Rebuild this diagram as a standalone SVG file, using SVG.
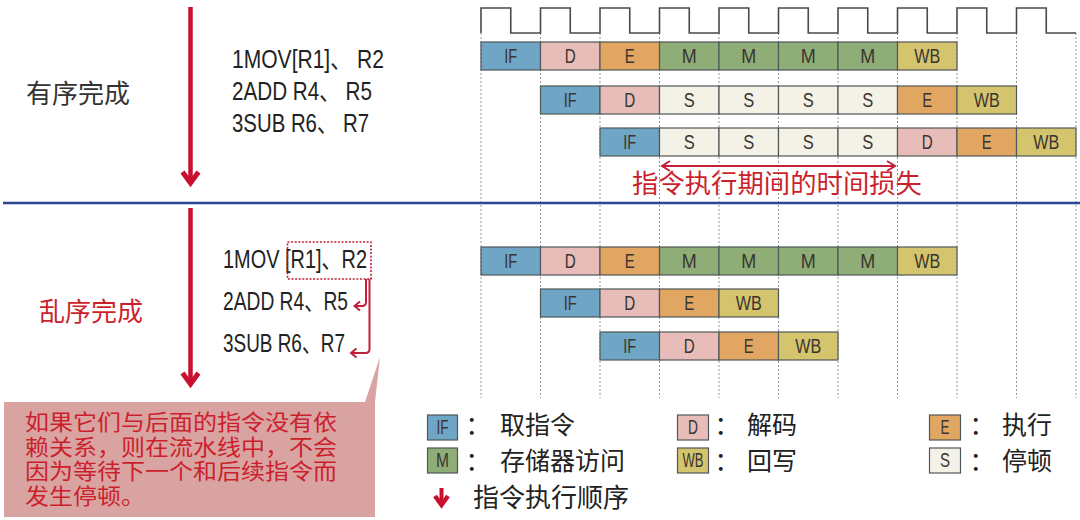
<svg xmlns="http://www.w3.org/2000/svg" width="1080" height="520" viewBox="0 0 1080 520">
<style>
.bg{fill:#ffffff}
.cell{stroke:#4f5858;stroke-width:1.2}
.if{fill:#6fa6c5}.d{fill:#e8bdb9}.e{fill:#e2a663}.m{fill:#8fad77}.wb{fill:#d5c46e}.s{fill:#f4f1e7}
.ct{font-family:"Liberation Sans",sans-serif;font-size:20px;fill:#3a3530;text-anchor:middle}
.ins{font-family:"Liberation Sans","Noto Sans CJK SC",sans-serif;font-size:25px;fill:#222}
.cjk{font-family:"Noto Sans CJK SC",sans-serif}
.red{fill:#cc1f2c}
.grid{stroke:#8a8a8a;stroke-width:0.9;stroke-dasharray:2 2;fill:none}
.clock{stroke:#4a4a4a;stroke-width:1.6;fill:none}
.rarrow{stroke:#c8102e;fill:none;stroke-linecap:butt}
.thin{stroke:#c41e3a;stroke-width:2;fill:none}
.co{font-family:"Liberation Sans","Noto Sans CJK SC",sans-serif;font-size:21.5px;fill:#cc1f2c}
</style>
<rect class="bg" x="0" y="0" width="1080" height="520"/>

<g id="grid">
<path class="grid" d="M481,33V398M540.5,33V398M600,33V398M659.5,33V398M719,33V398M778.5,33V398M838,33V398M897.5,33V398M957,33V398M1016.5,33V398M1076,33V398"/>
</g>

<g id="clock">
<path class="clock" d="M481,33V8H510.75V33H540.5V8H570.25V33H600V8H629.75V33H659.5V8H689.25V33H719V8H748.75V33H778.5V8H808.25V33H838V8H867.75V33H897.5V8H927.25V33H957V8H986.75V33H1016.5V8H1046.25V33H1076"/>
</g>

<g id="divider">
<line x1="3" y1="203" x2="1080" y2="203" stroke="#2d4694" stroke-width="2.6"/>
</g>

<g id="order-arrow-top">
<path class="rarrow" stroke-width="4.5" d="M190.5,7V183"/>
<path class="rarrow" stroke-width="5" d="M182.5,172L190.5,183L198.5,172"/>
</g>
<g id="order-arrow-bottom">
<path class="rarrow" stroke-width="4.5" d="M190.5,208V384"/>
<path class="rarrow" stroke-width="5" d="M182.5,373L190.5,384L198.5,373"/>
</g>

<g id="label-inorder">
<text class="cjk" x="26" y="103" font-size="26" fill="#333">有序完成</text>
</g>
<g id="label-outorder">
<text class="cjk red" x="39" y="321" font-size="26">乱序完成</text>
</g>

<g id="instr-top">
<text class="ins" x="232" y="68" textLength="152" lengthAdjust="spacingAndGlyphs">1MOV[R1]、 R2</text>
<text class="ins" x="232" y="100" textLength="140" lengthAdjust="spacingAndGlyphs">2ADD R4、 R5</text>
<text class="ins" x="232" y="132" textLength="137" lengthAdjust="spacingAndGlyphs">3SUB R6、 R7</text>
</g>

<g id="instr-bottom">
<text class="ins" x="223" y="268" font-size="26" textLength="144" lengthAdjust="spacingAndGlyphs">1MOV [R1]、R2</text>
<text class="ins" x="223" y="310" font-size="26" textLength="125" lengthAdjust="spacingAndGlyphs">2ADD R4、R5</text>
<text class="ins" x="223" y="352" font-size="26" textLength="122" lengthAdjust="spacingAndGlyphs">3SUB R6、R7</text>
<rect x="287.5" y="242" width="83.5" height="37" fill="none" stroke="#c41e3a" stroke-width="1.6" stroke-dasharray="2 1.6"/>
</g>

<g id="connectors">
<path class="thin" d="M366,279V302Q366,306 362,306H355"/>
<path class="thin" d="M360,301.5L354.5,306L360,310.5"/>
<path class="thin" d="M369.5,279V349Q369.5,353 365.5,353H351"/>
<path class="thin" d="M356.5,348.5L351,353L356.5,357.5"/>
<path class="thin" d="M662,166H895"/>
<path class="thin" d="M670,161L662,166L670,171"/>
<path class="thin" d="M887,161L895,166L887,171"/>
</g>

<g id="loss-label">
<text class="cjk red" x="632" y="193" font-size="26" textLength="290" lengthAdjust="spacingAndGlyphs">指令执行期间的时间损失</text>
</g>

<g id="pipe-top-1">
<rect class="cell if" x="481" y="42" width="59.5" height="28"/><text class="ct" x="510.75" y="63" textLength="13" lengthAdjust="spacingAndGlyphs">IF</text>
<rect class="cell d" x="540.5" y="42" width="59.5" height="28"/><text class="ct" x="570.25" y="63" textLength="11" lengthAdjust="spacingAndGlyphs">D</text>
<rect class="cell e" x="600" y="42" width="59.5" height="28"/><text class="ct" x="629.75" y="63" textLength="10" lengthAdjust="spacingAndGlyphs">E</text>
<rect class="cell m" x="659.5" y="42" width="59.5" height="28"/><text class="ct" x="689.25" y="63" textLength="15" lengthAdjust="spacingAndGlyphs">M</text>
<rect class="cell m" x="719" y="42" width="59.5" height="28"/><text class="ct" x="748.75" y="63" textLength="15" lengthAdjust="spacingAndGlyphs">M</text>
<rect class="cell m" x="778.5" y="42" width="59.5" height="28"/><text class="ct" x="808.25" y="63" textLength="15" lengthAdjust="spacingAndGlyphs">M</text>
<rect class="cell m" x="838" y="42" width="59.5" height="28"/><text class="ct" x="867.75" y="63" textLength="15" lengthAdjust="spacingAndGlyphs">M</text>
<rect class="cell wb" x="897.5" y="42" width="59.5" height="28"/><text class="ct" x="927.25" y="63" textLength="26" lengthAdjust="spacingAndGlyphs">WB</text>
</g>

<g id="pipe-top-2">
<rect class="cell if" x="540.5" y="86" width="59.5" height="28"/><text class="ct" x="570.25" y="107" textLength="13" lengthAdjust="spacingAndGlyphs">IF</text>
<rect class="cell d" x="600" y="86" width="59.5" height="28"/><text class="ct" x="629.75" y="107" textLength="11" lengthAdjust="spacingAndGlyphs">D</text>
<rect class="cell s" x="659.5" y="86" width="59.5" height="28"/><text class="ct" x="689.25" y="107" textLength="11" lengthAdjust="spacingAndGlyphs">S</text>
<rect class="cell s" x="719" y="86" width="59.5" height="28"/><text class="ct" x="748.75" y="107" textLength="11" lengthAdjust="spacingAndGlyphs">S</text>
<rect class="cell s" x="778.5" y="86" width="59.5" height="28"/><text class="ct" x="808.25" y="107" textLength="11" lengthAdjust="spacingAndGlyphs">S</text>
<rect class="cell s" x="838" y="86" width="59.5" height="28"/><text class="ct" x="867.75" y="107" textLength="11" lengthAdjust="spacingAndGlyphs">S</text>
<rect class="cell e" x="897.5" y="86" width="59.5" height="28"/><text class="ct" x="927.25" y="107" textLength="10" lengthAdjust="spacingAndGlyphs">E</text>
<rect class="cell wb" x="957" y="86" width="59.5" height="28"/><text class="ct" x="986.75" y="107" textLength="26" lengthAdjust="spacingAndGlyphs">WB</text>
</g>

<g id="pipe-top-3">
<rect class="cell if" x="600" y="128" width="59.5" height="28"/><text class="ct" x="629.75" y="149" textLength="13" lengthAdjust="spacingAndGlyphs">IF</text>
<rect class="cell s" x="659.5" y="128" width="59.5" height="28"/><text class="ct" x="689.25" y="149" textLength="11" lengthAdjust="spacingAndGlyphs">S</text>
<rect class="cell s" x="719" y="128" width="59.5" height="28"/><text class="ct" x="748.75" y="149" textLength="11" lengthAdjust="spacingAndGlyphs">S</text>
<rect class="cell s" x="778.5" y="128" width="59.5" height="28"/><text class="ct" x="808.25" y="149" textLength="11" lengthAdjust="spacingAndGlyphs">S</text>
<rect class="cell s" x="838" y="128" width="59.5" height="28"/><text class="ct" x="867.75" y="149" textLength="11" lengthAdjust="spacingAndGlyphs">S</text>
<rect class="cell d" x="897.5" y="128" width="59.5" height="28"/><text class="ct" x="927.25" y="149" textLength="11" lengthAdjust="spacingAndGlyphs">D</text>
<rect class="cell e" x="957" y="128" width="59.5" height="28"/><text class="ct" x="986.75" y="149" textLength="10" lengthAdjust="spacingAndGlyphs">E</text>
<rect class="cell wb" x="1016.5" y="128" width="59.5" height="28"/><text class="ct" x="1046.25" y="149" textLength="26" lengthAdjust="spacingAndGlyphs">WB</text>
</g>

<g id="pipe-bottom-1">
<rect class="cell if" x="481" y="247" width="59.5" height="28"/><text class="ct" x="510.75" y="268" textLength="13" lengthAdjust="spacingAndGlyphs">IF</text>
<rect class="cell d" x="540.5" y="247" width="59.5" height="28"/><text class="ct" x="570.25" y="268" textLength="11" lengthAdjust="spacingAndGlyphs">D</text>
<rect class="cell e" x="600" y="247" width="59.5" height="28"/><text class="ct" x="629.75" y="268" textLength="10" lengthAdjust="spacingAndGlyphs">E</text>
<rect class="cell m" x="659.5" y="247" width="59.5" height="28"/><text class="ct" x="689.25" y="268" textLength="15" lengthAdjust="spacingAndGlyphs">M</text>
<rect class="cell m" x="719" y="247" width="59.5" height="28"/><text class="ct" x="748.75" y="268" textLength="15" lengthAdjust="spacingAndGlyphs">M</text>
<rect class="cell m" x="778.5" y="247" width="59.5" height="28"/><text class="ct" x="808.25" y="268" textLength="15" lengthAdjust="spacingAndGlyphs">M</text>
<rect class="cell m" x="838" y="247" width="59.5" height="28"/><text class="ct" x="867.75" y="268" textLength="15" lengthAdjust="spacingAndGlyphs">M</text>
<rect class="cell wb" x="897.5" y="247" width="59.5" height="28"/><text class="ct" x="927.25" y="268" textLength="26" lengthAdjust="spacingAndGlyphs">WB</text>
</g>

<g id="pipe-bottom-2">
<rect class="cell if" x="540.5" y="289" width="59.5" height="28"/><text class="ct" x="570.25" y="310" textLength="13" lengthAdjust="spacingAndGlyphs">IF</text>
<rect class="cell d" x="600" y="289" width="59.5" height="28"/><text class="ct" x="629.75" y="310" textLength="11" lengthAdjust="spacingAndGlyphs">D</text>
<rect class="cell e" x="659.5" y="289" width="59.5" height="28"/><text class="ct" x="689.25" y="310" textLength="10" lengthAdjust="spacingAndGlyphs">E</text>
<rect class="cell wb" x="719" y="289" width="59.5" height="28"/><text class="ct" x="748.75" y="310" textLength="26" lengthAdjust="spacingAndGlyphs">WB</text>
</g>

<g id="pipe-bottom-3">
<rect class="cell if" x="600" y="332" width="59.5" height="28"/><text class="ct" x="629.75" y="353" textLength="13" lengthAdjust="spacingAndGlyphs">IF</text>
<rect class="cell d" x="659.5" y="332" width="59.5" height="28"/><text class="ct" x="689.25" y="353" textLength="11" lengthAdjust="spacingAndGlyphs">D</text>
<rect class="cell e" x="719" y="332" width="59.5" height="28"/><text class="ct" x="748.75" y="353" textLength="10" lengthAdjust="spacingAndGlyphs">E</text>
<rect class="cell wb" x="778.5" y="332" width="59.5" height="28"/><text class="ct" x="808.25" y="353" textLength="26" lengthAdjust="spacingAndGlyphs">WB</text>
</g>

<g id="callout">
<path d="M4,402H365L380,357L375,402V517H4Z" fill="#d9a3a2"/>
<text class="co" x="25" y="430" textLength="312" lengthAdjust="spacingAndGlyphs">如果它们与后面的指令没有依</text>
<text class="co" x="25" y="454.5" textLength="312" lengthAdjust="spacingAndGlyphs">赖关系，则在流水线中，不会</text>
<text class="co" x="25" y="479" textLength="312" lengthAdjust="spacingAndGlyphs">因为等待下一个和后续指令而</text>
<text class="co" x="25" y="503.5" textLength="120" lengthAdjust="spacingAndGlyphs">发生停顿。</text>
</g>

<g id="legend">
<g id="legend-if">
<rect class="cell if" x="427.5" y="415" width="30" height="25"/><text class="ct" x="442.5" y="434" font-size="17" textLength="12" lengthAdjust="spacingAndGlyphs">IF</text>
<text class="cjk" x="478" y="434" font-size="25" fill="#222" text-anchor="middle">：</text>
<text class="cjk" x="500" y="434" font-size="25" fill="#222">取指令</text>
</g>
<g id="legend-m">
<rect class="cell m" x="427.5" y="448" width="30" height="25"/><text class="ct" x="442.5" y="467" font-size="17" textLength="13" lengthAdjust="spacingAndGlyphs">M</text>
<text class="cjk" x="478" y="470" font-size="25" fill="#222" text-anchor="middle">：</text>
<text class="cjk" x="500" y="470" font-size="25" fill="#222">存储器访问</text>
</g>
<g id="legend-d">
<rect class="cell d" x="677.5" y="415" width="31" height="25"/><text class="ct" x="693" y="434" font-size="17" textLength="10" lengthAdjust="spacingAndGlyphs">D</text>
<text class="cjk" x="727" y="434" font-size="25" fill="#222" text-anchor="middle">：</text>
<text class="cjk" x="747" y="434" font-size="25" fill="#222">解码</text>
</g>
<g id="legend-wb">
<rect class="cell wb" x="677.5" y="448" width="31" height="25"/><text class="ct" x="693" y="467" font-size="17" textLength="21" lengthAdjust="spacingAndGlyphs">WB</text>
<text class="cjk" x="727" y="470" font-size="25" fill="#222" text-anchor="middle">：</text>
<text class="cjk" x="747" y="470" font-size="25" fill="#222">回写</text>
</g>
<g id="legend-e">
<rect class="cell e" x="929.5" y="415" width="31" height="25"/><text class="ct" x="945" y="434" font-size="17" textLength="9" lengthAdjust="spacingAndGlyphs">E</text>
<text class="cjk" x="982" y="434" font-size="25" fill="#222" text-anchor="middle">：</text>
<text class="cjk" x="1002" y="434" font-size="25" fill="#222">执行</text>
</g>
<g id="legend-s">
<rect class="cell s" x="929.5" y="448" width="31" height="25"/><text class="ct" x="945" y="467" font-size="17" textLength="10" lengthAdjust="spacingAndGlyphs">S</text>
<text class="cjk" x="982" y="470" font-size="25" fill="#222" text-anchor="middle">：</text>
<text class="cjk" x="1002" y="470" font-size="25" fill="#222">停顿</text>
</g>
<g id="legend-arrow">
<path class="rarrow" stroke-width="4" d="M441.5,488V503"/>
<path class="rarrow" stroke-width="4.5" d="M435,496L441.5,505L448,496"/>
<text class="cjk" x="473" y="507" font-size="26" fill="#222">指令执行顺序</text>
</g>
</g>
</svg>
